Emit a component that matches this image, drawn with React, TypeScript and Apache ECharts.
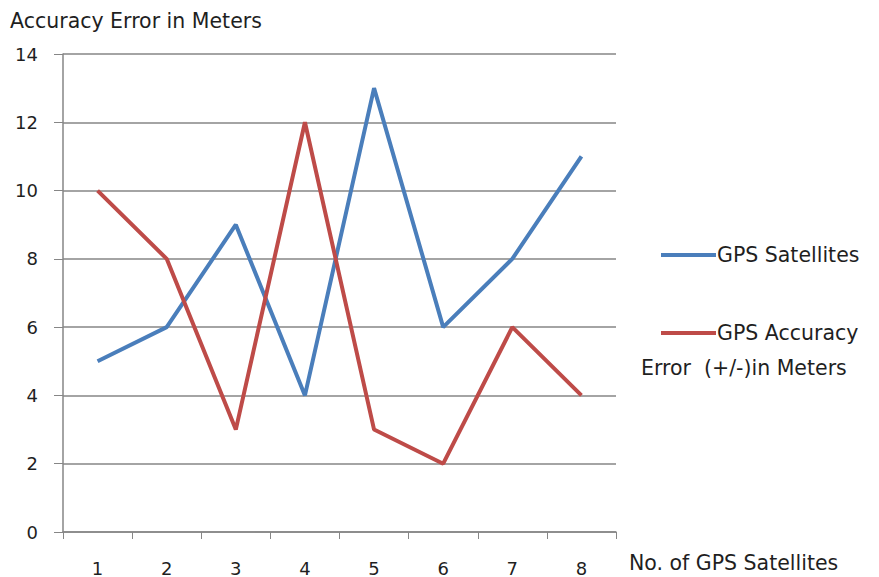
import React, { useEffect, useRef } from "react";
import * as echarts from "echarts";

const categories = ["1", "2", "3", "4", "5", "6", "7", "8"];
const satellites = [5, 6, 9, 4, 13, 6, 8, 11];
const accuracyError = [10, 8, 3, 12, 3, 2, 6, 4];
const seriesNames = ["GPS Satellites", "GPS Accuracy Error (+/-)in Meters"];
const yTicks = [0, 2, 4, 6, 8, 10, 12, 14];

const FONT = "DejaVu Sans";
const FS = 18;
const FN = 20.5;
const BLUE = "#4A7EBB";
const RED = "#BE4B48";
const TXT = "#1f1f1f";

export default function App() {
  const ref = useRef<HTMLDivElement>(null);
  useEffect(() => {
    if (!ref.current) return;
    const chart = echarts.init(ref.current, undefined, { renderer: "svg" });
    chart.setOption({
      animation: false,
      backgroundColor: "#ffffff",
      textStyle: { fontFamily: FONT },
      grid: { left: 63, right: 263, top: 54, bottom: 45 },
      xAxis: {
        type: "category",
        data: categories,
        boundaryGap: true,
        name: "No. of GPS Satellites",
        nameLocation: "end",
        nameGap: 13,
        nameTextStyle: { color: TXT, fontSize: FN, fontFamily: FONT, verticalAlign: "top", padding: [20, 0, 0, 0] },
        axisLine: { lineStyle: { color: "#868686", width: 1.5 } },
        axisTick: { show: true, length: 7, alignWithLabel: false, lineStyle: { color: "#868686" } },
        axisLabel: { color: TXT, fontSize: FS, margin: 27, fontFamily: FONT },
        splitLine: { show: false },
      },
      yAxis: {
        type: "value",
        min: yTicks[0],
        max: yTicks[yTicks.length - 1],
        interval: 2,
        name: "Accuracy Error in Meters",
        nameLocation: "end",
        nameGap: 23,
        nameTextStyle: { color: TXT, fontSize: FN, fontFamily: FONT, align: "left", padding: [0, 0, 0, -53] },
        axisLine: { show: true, lineStyle: { color: "#868686", width: 1.5 } },
        axisTick: { show: true, length: 9, lineStyle: { color: "#868686" } },
        axisLabel: { color: TXT, fontSize: FS, margin: 25, fontFamily: FONT, align: "right" },
        splitLine: { show: true, lineStyle: { color: "#868686", width: 1.5 } },
      },
      series: [
        {
          name: seriesNames[0],
          type: "line",
          data: satellites,
          symbol: "none",
          lineStyle: { color: BLUE, width: 4 },
          itemStyle: { color: BLUE },
        },
        {
          name: seriesNames[1],
          type: "line",
          data: accuracyError,
          symbol: "none",
          lineStyle: { color: RED, width: 4 },
          itemStyle: { color: RED },
        },
      ],
      graphic: [
        { type: "line", shape: { x1: 661, y1: 255, x2: 716, y2: 255 }, style: { stroke: BLUE, lineWidth: 4 } },
        { type: "text", x: 717, y: 255, style: { text: "GPS Satellites", font: `${FN}px "${FONT}"`, fill: TXT, verticalAlign: "middle" } },
        { type: "line", shape: { x1: 661, y1: 333, x2: 716, y2: 333 }, style: { stroke: RED, lineWidth: 4 } },
        { type: "text", x: 717, y: 333, style: { text: "GPS Accuracy", font: `${FN}px "${FONT}"`, fill: TXT, verticalAlign: "middle" } },
        { type: "text", x: 641, y: 368, style: { text: "Error  (+/-)in Meters", font: `${FN}px "${FONT}"`, fill: TXT, verticalAlign: "middle" } },
      ],
    });
    return () => chart.dispose();
  }, []);
  return <div ref={ref} style={{ width: 879, height: 577, position: "absolute", left: 0, top: 0 }} />;
}
